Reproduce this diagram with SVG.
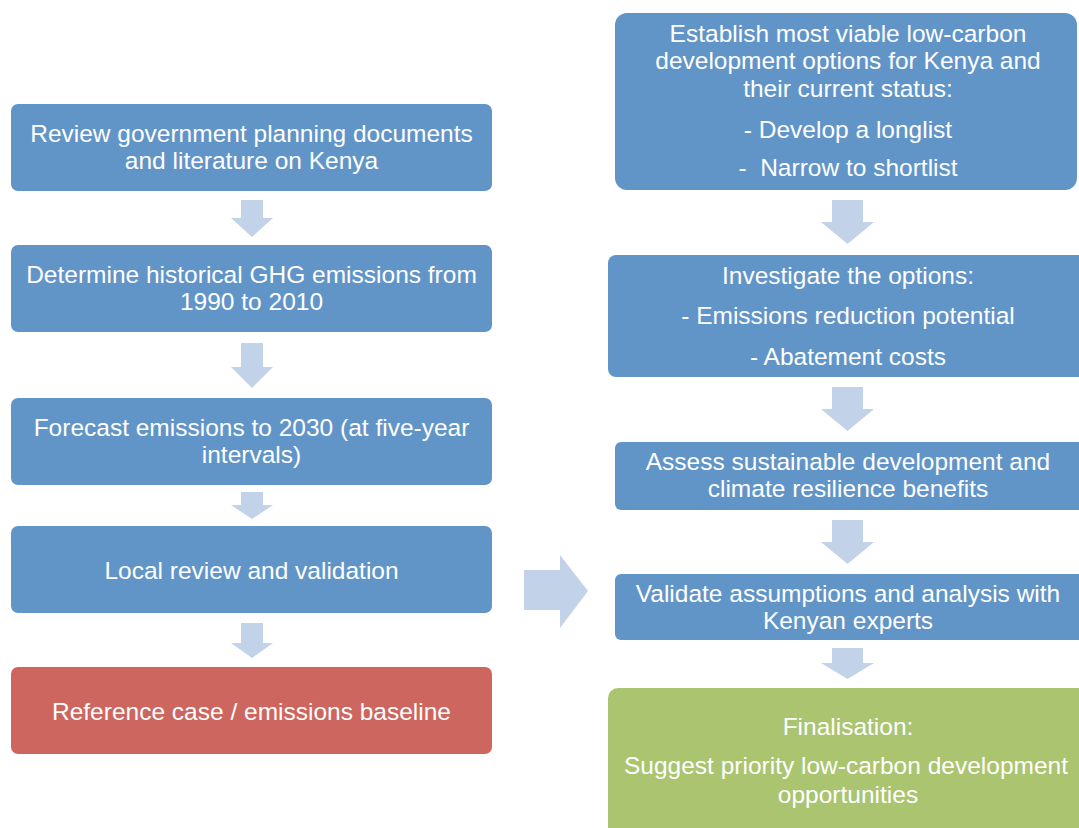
<svg xmlns="http://www.w3.org/2000/svg" width="1079" height="828" viewBox="0 0 1079 828">
<style>
.box{fill:#6195C8;}
.red{fill:#CD665E;}
.green{fill:#ABC46F;}
.arr{fill:#C2D3E9;}
text{font-family:"Liberation Sans",Arial,sans-serif;font-size:24.5px;fill:#FFFFFF;text-anchor:middle;}
</style>
<rect width="1079" height="828" fill="#FFFFFF"/>
<g id="connectors">
<polygon class="arr" points="241,200 263,200 263,218 273,218 252,237 231,218 241,218"/>
<polygon class="arr" points="241,343 263,343 263,367 273,367 252,388 231,367 241,367"/>
<polygon class="arr" points="241,492 263,492 263,505 273,505 252,519 231,505 241,505"/>
<polygon class="arr" points="241,623 263,623 263,643 273,643 252,658 231,643 241,643"/>
<polygon class="arr" points="832,200 863,200 863,222 874,222 847.5,244 821,222 832,222"/>
<polygon class="arr" points="832,387 863,387 863,409 874,409 847.5,431 821,409 832,409"/>
<polygon class="arr" points="832,520 863,520 863,542 874,542 847.5,564 821,542 832,542"/>
<polygon class="arr" points="832,648 863,648 863,663 874,663 847.5,679 821,663 832,663"/>
<polygon class="arr" points="524,570 560,570 560,555 588,591 560,628 560,610 524,610"/>
</g>
<g id="n1">
<rect class="box" x="11" y="104" width="481" height="87" rx="7"/>
<text x="251.5" y="142">Review government planning documents</text>
<text x="251.5" y="169">and literature on Kenya</text>
</g>
<g id="n2">
<rect class="box" x="11" y="245" width="481" height="87" rx="7"/>
<text x="251.5" y="283">Determine historical GHG emissions from</text>
<text x="251.5" y="310">1990 to 2010</text>
</g>
<g id="n3">
<rect class="box" x="11" y="398" width="481" height="87" rx="7"/>
<text x="251.5" y="436">Forecast emissions to 2030 (at five-year</text>
<text x="251.5" y="463">intervals)</text>
</g>
<g id="n4">
<rect class="box" x="11" y="526" width="481" height="87" rx="7"/>
<text x="251.5" y="579">Local review and validation</text>
</g>
<g id="n5">
<rect class="red" x="11" y="667" width="481" height="87" rx="7"/>
<text x="251.5" y="720">Reference case / emissions baseline</text>
</g>
<g id="r1">
<rect class="box" x="615" y="13" width="462" height="177" rx="12"/>
<text x="848" y="42">Establish most viable low-carbon</text>
<text x="848" y="69">development options for Kenya and</text>
<text x="848" y="97">their current status:</text>
<text x="848" y="138">- Develop a longlist</text>
<text x="848" y="176">-&#160; Narrow to shortlist</text>
</g>
<g id="r2">
<rect class="box" x="608" y="255" width="480" height="122" rx="8"/>
<text x="848" y="284">Investigate the options:</text>
<text x="848" y="324">- Emissions reduction potential</text>
<text x="848" y="365">- Abatement costs</text>
</g>
<g id="r3">
<rect class="box" x="615" y="442" width="473" height="68" rx="6"/>
<text x="848" y="470">Assess sustainable development and</text>
<text x="848" y="497">climate resilience benefits</text>
</g>
<g id="r4">
<rect class="box" x="615" y="574" width="473" height="66" rx="6"/>
<text x="848" y="602">Validate assumptions and analysis with</text>
<text x="848" y="629">Kenyan experts</text>
</g>
<g id="r5">
<rect class="green" x="608" y="688" width="480" height="150" rx="10"/>
<text x="848" y="735">Finalisation:</text>
<text x="846" y="774">Suggest priority low-carbon development</text>
<text x="848" y="803">opportunities</text>
</g>
</svg>
